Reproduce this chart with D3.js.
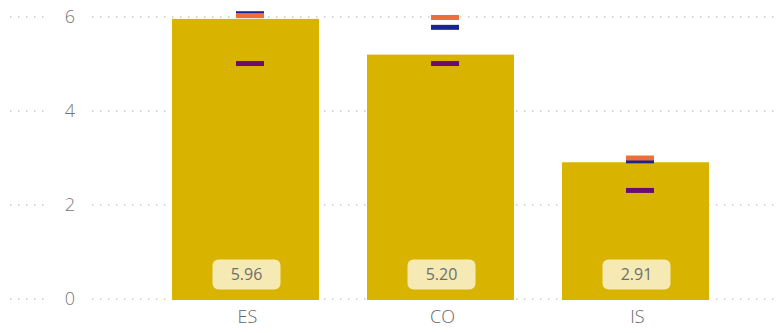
<!DOCTYPE html>
<html>
<head>
<meta charset="utf-8">
<script src="https://cdn.jsdelivr.net/npm/d3@7"></script>
<style>
  body { margin: 0; background: #fff; }
  text { font-family: "Open Sans", "Noto Sans", sans-serif; }
</style>
</head>
<body>
<script>
// values
var categories = ["ES", "CO", "IS"];
var barValues = [5.96, 5.20, 2.91];
var navyValues = [6.07, 5.78, 2.94];
var orangeValues = [6.03, 5.99, 3.00];
var purpleValues = [5.01, 5.01, 2.31];
var yTicks = [0, 2, 4, 6];

var width = 783, height = 333;

var svg = d3.select("body").append("svg")
  .attr("width", width)
  .attr("height", height);

var x = d3.scaleBand()
  .domain(categories)
  .range([148, 733])
  .paddingInner(0.246)
  .paddingOuter(0.123);

var y = d3.scaleLinear()
  .domain([0, 6])
  .range([299, 17]);

// gridlines, broken where the tick label sits
var grid = svg.append("g");
yTicks.forEach(function(t) {
  [[10, 48], [92, 778]].forEach(function(seg) {
    grid.append("line")
      .attr("x1", seg[0]).attr("x2", seg[1])
      .attr("y1", y(t)).attr("y2", y(t))
      .attr("stroke", "#c8c8c8")
      .attr("stroke-width", 1.5)
      .attr("stroke-dasharray", "1.5,6.5");
  });
  grid.append("text")
    .attr("x", 70)
    .attr("y", y(t))
    .attr("dy", "0.36em")
    .attr("text-anchor", "middle")
    .attr("font-size", 18)
    .attr("font-weight", 300)
    .attr("fill", "#777")
    .text(t);
});

// bars
svg.selectAll(".bar")
  .data(categories)
  .enter()
  .append("rect")
  .attr("class", "bar")
  .attr("x", function(d) { return x(d); })
  .attr("width", x.bandwidth())
  .attr("y", function(d, i) { return y(barValues[i]); })
  .attr("height", function(d, i) { return y(0) - y(barValues[i]) + 1; })
  .attr("fill", "#D8B400");

// marker dashes, drawn a few px right of bar centre
function drawMarks(values, color) {
  svg.selectAll(null)
    .data(categories)
    .enter()
    .append("rect")
    .attr("x", function(d) { return x(d) + x.bandwidth() / 2 + 4.5 - 14; })
    .attr("width", 28)
    .attr("y", function(d, i) { return y(values[i]) - 2.5; })
    .attr("height", 5)
    .attr("fill", color);
}
drawMarks(navyValues, "#1C2495");
drawMarks(orangeValues, "#EC6F3A");
drawMarks(purpleValues, "#6A0D6E");

// value badges
var badges = svg.selectAll(".badge")
  .data(categories)
  .enter()
  .append("g")
  .attr("transform", function(d) {
    return "translate(" + (x(d) + x.bandwidth() / 2 + 1) + "," + (y(0) - 24.5) + ")";
  });

badges.append("rect")
  .attr("x", -34)
  .attr("y", -15)
  .attr("width", 68)
  .attr("height", 30)
  .attr("rx", 6)
  .attr("fill", "#F6EAB4");

badges.append("text")
  .attr("text-anchor", "middle")
  .attr("dy", "0.36em")
  .attr("font-size", 16)
  .attr("fill", "#6e6e6e")
  .text(function(d, i) { return barValues[i].toFixed(2); });

// x axis labels
svg.selectAll(".xlab")
  .data(categories)
  .enter()
  .append("text")
  .attr("x", function(d) { return x(d) + x.bandwidth() / 2 + 2; })
  .attr("y", 317)
  .attr("dy", "0.36em")
  .attr("text-anchor", "middle")
  .attr("font-size", 18)
  .attr("font-weight", 300)
  .attr("fill", "#666")
  .text(function(d) { return d; });
</script>
</body>
</html>
